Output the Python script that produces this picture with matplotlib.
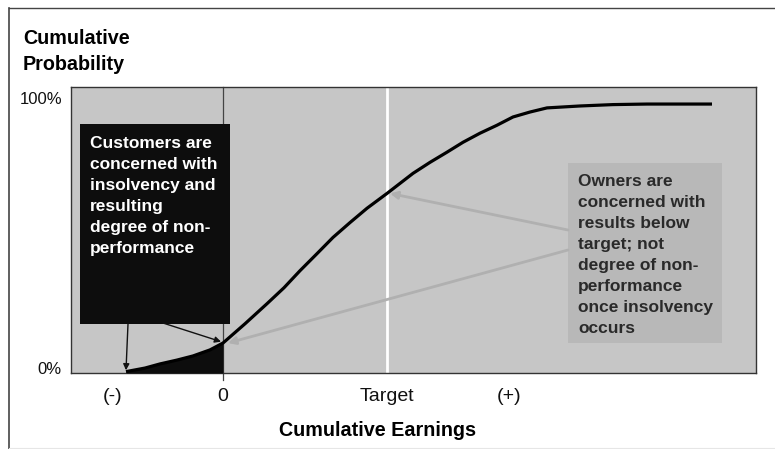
import matplotlib
matplotlib.use("Agg")
import matplotlib.pyplot as plt
from matplotlib.patches import Rectangle
from matplotlib.lines import Line2D
from matplotlib.transforms import ScaledTranslation

plt.rcParams['font.family'] = ['Liberation Sans', 'DejaVu Sans']

# ---- data ----
earnings = [-0.97, -0.78, -0.63, -0.46, -0.30, -0.13, 0.0, 0.22, 0.44, 0.61, 0.77,
            0.94, 1.10, 1.27, 1.44, 1.64, 1.90, 2.07, 2.24, 2.40, 2.57, 2.74,
            2.90, 3.07, 3.24, 3.57, 3.90, 4.24, 4.57, 4.89]
cum_prob = [0.5, 1.8, 3.3, 4.7, 6.2, 8.4, 10.9, 17.9, 25.2, 31.0, 37.2,
            43.4, 49.3, 54.7, 59.9, 65.3, 72.6, 76.6, 80.3, 83.9, 87.2, 90.1,
            93.1, 94.9, 96.4, 97.1, 97.6, 97.8, 97.8, 97.8]
x_tick_pos = [-1.10, 0.0, 1.64, 2.86]
x_tick_labels = ['(-)', '0', 'Target', '(+)']
y_tick_pos = [0, 100]
y_tick_labels = ['0%', '100%']
zero_x = 0.0
target_x = 1.64

customers_text = "Customers are\nconcerned with\ninsolvency and\nresulting\ndegree of non-\nperformance"
owners_text = ("Owners are\nconcerned with\nresults below\ntarget; not\ndegree of non-\n"
               "performance\nonce insolvency\noccurs")

W, H = 775, 449
fig = plt.figure(figsize=(W / 100, H / 100), dpi=100)
ax = fig.add_axes([71 / W, 1 - 373 / H, 685 / W, 286 / H])
ax.set_facecolor('#c6c6c6')
ax.set_xlim(-1.52, 5.33)
ax.set_ylim(0, 104.0)

for s in ax.spines.values():
    s.set_color('#333333')
    s.set_linewidth(1.0)

# target line and zero line
ax.axvline(target_x, color='white', lw=2.0, zorder=1)
ax.axvline(zero_x, ymin=-0.025, ymax=1, color='#444444', lw=0.9, zorder=2, clip_on=False)

# shaded tail
neg_x = [e for e in earnings if e <= 0]
neg_y = cum_prob[:len(neg_x)]
ax.fill_between(neg_x, 0, neg_y, color='#0d0d0d', zorder=3, lw=0)

# curve
ax.plot(earnings, cum_prob, color='black', lw=2.3, zorder=5, solid_capstyle='butt',
        solid_joinstyle='round')

# customers box
ax.add_patch(Rectangle((0.0131, 0.171), 0.219, 0.70, transform=ax.transAxes,
                       facecolor='#0d0d0d', edgecolor='none', zorder=4))
ax.text(0.0277, 0.830, customers_text, transform=ax.transAxes, color='white',
        fontsize=12.5, fontweight='bold', va='top', ha='left', linespacing=1.5, zorder=6)

# owners box
ax.add_patch(Rectangle((0.7255, 0.105), 0.2245, 0.629, transform=ax.transAxes,
                       facecolor='#b8b8b8', edgecolor='none', zorder=4))
ax.text(0.740, 0.695, owners_text, transform=ax.transAxes, color='#2a2a2a',
        fontsize=12.5, fontweight='bold', va='top', ha='left', linespacing=1.5, zorder=6)

# black arrows
ax.annotate('', xy=(earnings[0], cum_prob[0] + 0.5), xycoords='data',
            xytext=(0.0832, 0.171), textcoords='axes fraction',
            arrowprops=dict(arrowstyle='-|>', color='#111111', lw=1.0, mutation_scale=9,
                            shrinkA=0, shrinkB=0), zorder=6)
ax.annotate('', xy=(zero_x - 0.02, cum_prob[6] + 0.5), xycoords='data',
            xytext=(0.134, 0.175), textcoords='axes fraction',
            arrowprops=dict(arrowstyle='-|>', color='#111111', lw=1.0, mutation_scale=9,
                            shrinkA=0, shrinkB=0), zorder=6)

# gray arrows
ax.annotate('', xy=(earnings[15] + 0.03, cum_prob[15]), xycoords='data',
            xytext=(0.7255, 0.50), textcoords='axes fraction',
            arrowprops=dict(arrowstyle='-|>', color='#b0b0b0', lw=2.0, mutation_scale=11,
                            shrinkA=0, shrinkB=0), zorder=4)
ax.annotate('', xy=(zero_x + 0.05, cum_prob[6]), xycoords='data',
            xytext=(0.7255, 0.43), textcoords='axes fraction',
            arrowprops=dict(arrowstyle='-|>', color='#b0b0b0', lw=2.0, mutation_scale=11,
                            shrinkA=0, shrinkB=0), zorder=4)

# ticks
ax.set_xticks(x_tick_pos, x_tick_labels)
ax.set_yticks(y_tick_pos, y_tick_labels)
ax.tick_params(axis='both', length=0, colors='#111111')
ax.tick_params(axis='x', pad=10.5, labelsize=14)
ax.tick_params(axis='y', pad=6.5, labelsize=12)
t0 = ax.yaxis.get_major_ticks()[0]
t0.label1.set_transform(t0.label1.get_transform() + ScaledTranslation(0, 0.05, fig.dpi_scale_trans))

# axis titles
fig.text(23 / W, 1 - 29 / H, "Cumulative\nProbability", fontsize=14.2, fontweight='bold',
         va='top', ha='left', linespacing=1.45)
ax.set_xlabel("Cumulative Earnings", fontsize=14.2, fontweight='bold')
ax.xaxis.set_label_coords((377 - 71) / 685, -(431 - 373) / 286)
ax.xaxis.label.set_va('center')

# outer frame
fig.add_artist(Line2D([9 / W, 1], [1 - 8 / H, 1 - 8 / H], transform=fig.transFigure,
                      color='#444444', lw=1.0))
fig.add_artist(Line2D([9 / W, 9 / W], [0, 1 - 8 / H], transform=fig.transFigure,
                      color='#444444', lw=1.2))
fig.add_artist(Line2D([9 / W, 1], [1 / H, 1 / H], transform=fig.transFigure,
                      color='#e6e6e6', lw=0.8))

fig.savefig('out.png', dpi=100)
